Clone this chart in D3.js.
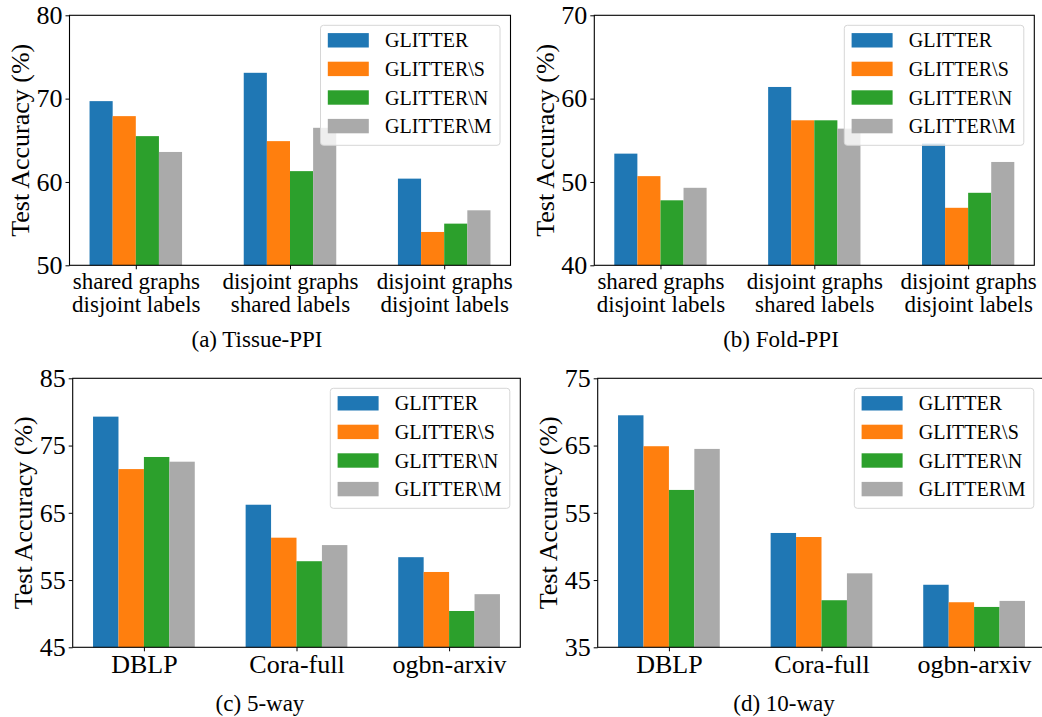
<!DOCTYPE html>
<html>
<head>
<meta charset="utf-8">
<script src="https://cdn.jsdelivr.net/npm/d3@7"></script>
<style>
  body { margin: 0; background: #fff; }
  svg { display: block; font-family: "Liberation Serif", "Times New Roman", serif; }
</style>
</head>
<body>
<div id="chart"></div>
<script>
// series + colours
var seriesNames = ["GLITTER", "GLITTER\\S", "GLITTER\\N", "GLITTER\\M"];
var seriesColors = ["#1f77b4", "#ff7f0e", "#2ca02c", "#aaaaaa"];

// category labels
var ppiCategories = [["shared graphs", "disjoint labels"], ["disjoint graphs", "shared labels"], ["disjoint graphs", "disjoint labels"]];
var datasetCategories = ["DBLP", "Cora-full", "ogbn-arxiv"];

// values, one row per series (GLITTER, \S, \N, \M)
var tissueValues = [[69.7, 73.1, 60.4], [67.9, 64.9, 54.0], [65.5, 61.3, 55.0], [63.6, 66.5, 56.6]];
var foldValues   = [[53.4, 61.4, 54.6], [50.7, 57.4, 46.9], [47.8, 57.4, 48.7], [49.3, 56.4, 52.4]];
var fiveValues   = [[79.3, 66.2, 58.4], [71.5, 61.3, 56.2], [73.3, 57.8, 50.4], [72.6, 60.2, 52.9]];
var tenValues    = [[69.5, 52.0, 44.3], [64.9, 51.4, 41.7], [58.4, 42.0, 41.0], [64.5, 46.0, 41.9]];

// y tick labels
var tissueTicks = [50, 60, 70, 80];
var foldTicks = [40, 50, 60, 70];
var fiveTicks = [45, 55, 65, 75, 85];
var tenTicks = [35, 45, 55, 65, 75];

var W = 1042, H = 717;

var svg = d3.select("#chart").append("svg")
    .attr("width", W)
    .attr("height", H);

var panels = [
    { values: tissueValues, ticks: tissueTicks, cats: ppiCategories, caption: "(a) Tissue-PPI",
      left: 69.5, right: 510.5, top: 15.3, bottom: 265.3, barW: 0.15, tickFont: 23, capX: 257, capY: 346.7 },
    { values: foldValues, ticks: foldTicks, cats: ppiCategories, caption: "(b) Fold-PPI",
      left: 594.3, right: 1034.3, top: 15.3, bottom: 265.3, barW: 0.15, tickFont: 23, capX: 781, capY: 346.7 },
    { values: fiveValues, ticks: fiveTicks, cats: datasetCategories, caption: "(c) 5-way",
      left: 72.7, right: 520.3, top: 378.3, bottom: 647.3, barW: 1 / 6, tickFont: 26, capX: 260, capY: 710.5 },
    { values: tenValues, ticks: tenTicks, cats: datasetCategories, caption: "(d) 10-way",
      left: 597.7, right: 1045.3, top: 378.3, bottom: 647.3, barW: 1 / 6, tickFont: 26, capX: 784, capY: 710.5 }
];

panels.forEach(function(p){ drawPanel(p); });

function drawPanel(p){
    var n = seriesNames.length;
    // matplotlib style 5% margins around the bar extent
    var half = p.barW * n / 2;
    var pad = (2 + 2 * half) * 0.05;

    var x = d3.scaleLinear()
        .domain([-half - pad, 2 + half + pad])
        .range([p.left, p.right]);

    var y = d3.scaleLinear()
        .domain([d3.min(p.ticks), d3.max(p.ticks)])
        .range([p.bottom, p.top]);

    var g = svg.append("g");

    // bars
    p.values.forEach(function(row, s){
        g.selectAll(".bar-" + s)
            .data(row)
          .enter().append("rect")
            .attr("class", "bar-" + s)
            .attr("x", function(d, i){ return x(i - half + s * p.barW); })
            .attr("width", function(d, i){ return x(i - half + (s + 1) * p.barW) - x(i - half + s * p.barW); })
            .attr("y", function(d){ return y(d); })
            .attr("height", function(d){ return y.range()[0] - y(d); })
            .attr("fill", seriesColors[s]);
    });

    // y axis
    var yAxis = g.append("g")
        .attr("transform", "translate(" + p.left + ",0)")
        .call(d3.axisLeft(y).tickValues(p.ticks).tickSize(4).tickPadding(3).tickFormat(d3.format("d")));
    yAxis.select(".domain").remove();
    yAxis.selectAll("text").attr("font-size", 26).attr("font-family", "Liberation Serif").attr("fill", "#000");
    yAxis.selectAll("line").attr("stroke", "#000").attr("stroke-width", 1);

    // x axis
    var xAxis = g.append("g")
        .attr("transform", "translate(0," + p.bottom + ")")
        .call(d3.axisBottom(x).tickValues([0, 1, 2]).tickSize(4).tickPadding(3).tickFormat(""));
    xAxis.select(".domain").remove();
    xAxis.selectAll("line").attr("stroke", "#000").attr("stroke-width", 1);
    xAxis.selectAll(".tick text")
        .attr("font-size", p.tickFont)
        .attr("font-family", "Liberation Serif")
        .attr("fill", "#000")
        .each(function(d){
            var lines = Array.isArray(p.cats[d]) ? p.cats[d] : [p.cats[d]];
            var t = d3.select(this);
            lines.forEach(function(l, k){
                t.append("tspan")
                    .attr("x", 0)
                    .attr("dy", k === 0 ? "0.71em" : "1.01em")
                    .text(l);
            });
        });

    // spines
    g.append("rect")
        .attr("x", p.left)
        .attr("y", p.top)
        .attr("width", p.right - p.left)
        .attr("height", p.bottom - p.top)
        .attr("fill", "none")
        .attr("stroke", "#000")
        .attr("stroke-width", 1.1);

    // y label
    g.append("text")
        .attr("transform", "translate(" + (p.left - 40.5) + "," + ((p.top + p.bottom) / 2) + ") rotate(-90)")
        .attr("text-anchor", "middle")
        .attr("font-size", 26)
        .text("Test Accuracy (%)");

    // caption
    g.append("text")
        .attr("x", p.capX)
        .attr("y", p.capY)
        .attr("text-anchor", "middle")
        .attr("font-size", 23)
        .text(p.caption);

    // legend
    var lw = 179.5, lh = 120;
    var lx = Math.min(p.right, W) - 10.5 - lw;
    if (p.right > W) lx = 854.3;
    var ly = p.top + 10;
    var leg = g.append("g").attr("transform", "translate(" + lx + "," + ly + ")");
    leg.append("rect")
        .attr("width", lw)
        .attr("height", lh)
        .attr("rx", 3)
        .attr("fill", "#fff")
        .attr("fill-opacity", 0.8)
        .attr("stroke", "#d6d6d6")
        .attr("stroke-width", 1);

    var item = leg.selectAll(".item")
        .data(seriesNames)
      .enter().append("g")
        .attr("class", "item")
        .attr("transform", function(d, i){ return "translate(0," + (15 + i * 28.6) + ")"; });
    item.append("rect")
        .attr("x", 7.3)
        .attr("y", -7.2)
        .attr("width", 41)
        .attr("height", 14.4)
        .attr("fill", function(d, i){ return seriesColors[i]; });
    item.append("text")
        .attr("x", 64.5)
        .attr("y", 7)
        .attr("font-size", 20)
        .text(function(d){ return d; });
}
</script>
</body>
</html>
